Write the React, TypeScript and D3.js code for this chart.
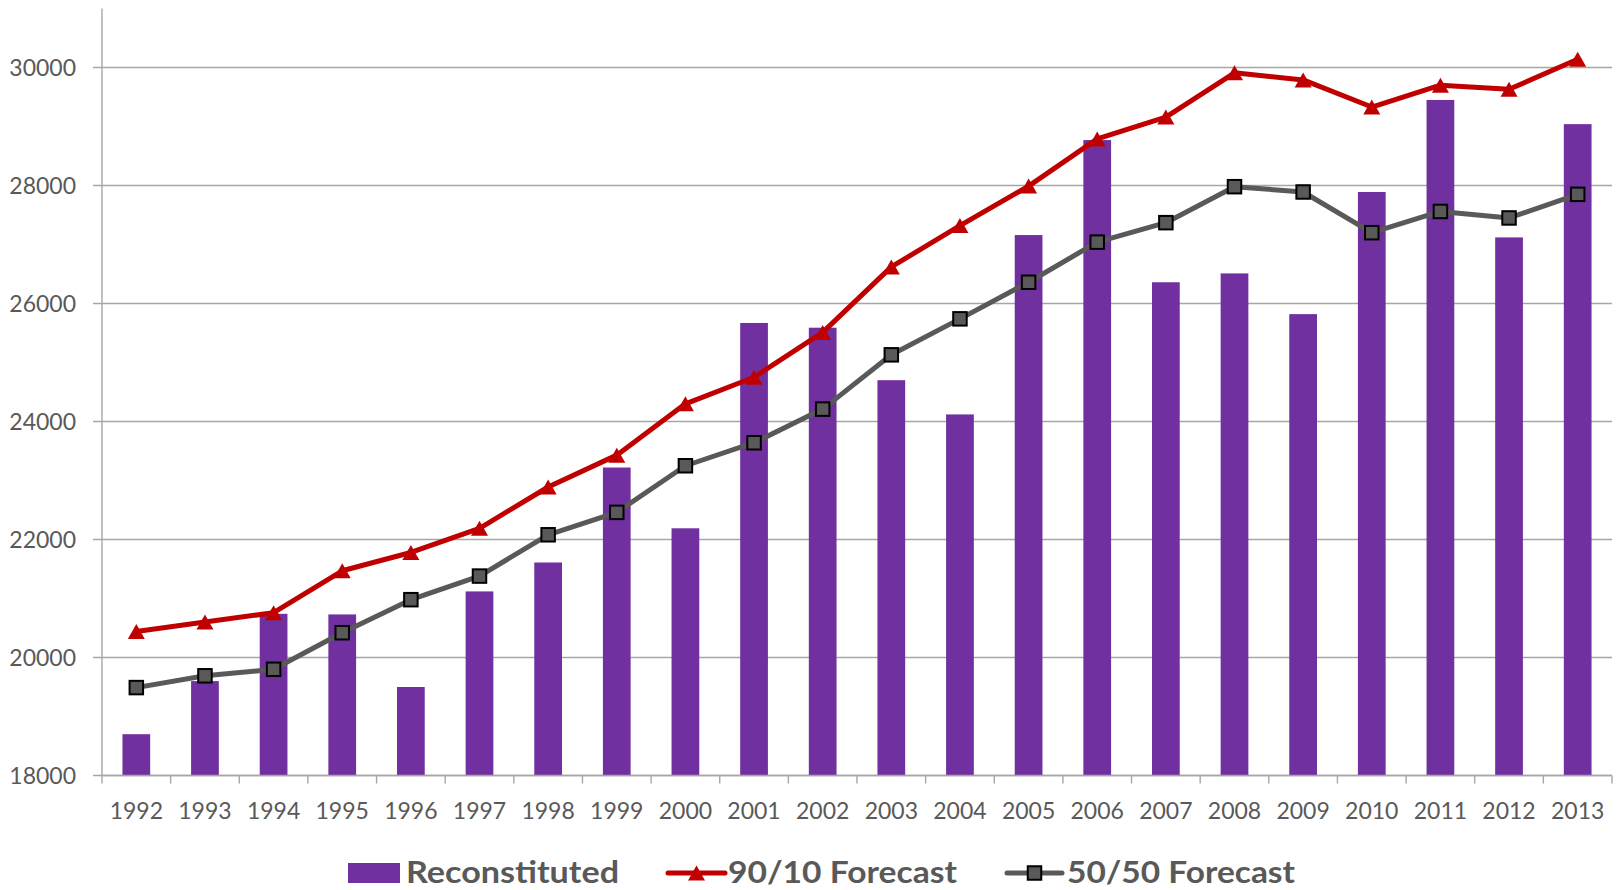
import React from "react";
import * as d3 from "d3";

const years = [
  "1992", "1993", "1994", "1995", "1996", "1997", "1998", "1999", "2000", "2001", "2002",
  "2003", "2004", "2005", "2006", "2007", "2008", "2009", "2010", "2011", "2012", "2013",
];

const reconstituted = [
  18700, 19600, 20740, 20730, 19500, 21120, 21610, 23220, 22190, 25670, 25590,
  24700, 24120, 27160, 28770, 26360, 26510, 25820, 27890, 29450, 27120, 29040,
];

const forecast9010 = [
  20440, 20600, 20760, 21470, 21780, 22190, 22890, 23430, 24300, 24750, 25510,
  26620, 27320, 27990, 28790, 29160, 29910, 29790, 29330, 29700, 29630, 30140,
];

const forecast5050 = [
  19490, 19690, 19800, 20420, 20980, 21380, 22080, 22460, 23250, 23640, 24210,
  25130, 25740, 26360, 27040, 27370, 27980, 27890, 27200, 27560, 27450, 27850,
];

const yTicks = [18000, 20000, 22000, 24000, 26000, 28000, 30000];
const yDomain = [18000, 31000];

const legendLabels = ["Reconstituted", "90/10 Forecast", "50/50 Forecast"];

const W = 1621;
const H = 890;
const left = 102;
const right = 1612;
const top = 8.5;
const bottom = 775.5;

const PURPLE = "#7030A0";
const RED = "#C00000";
const GREY = "#595959";
const GRID = "#A6A6A6";
const TEXT = "#595959";
const FONT = "Lato, 'Open Sans', sans-serif";

function triangle(cx: number, cy: number, w = 17, h = 15) {
  return `M${cx},${cy - h / 2}L${cx + w / 2},${cy + h / 2}L${cx - w / 2},${cy + h / 2}Z`;
}

export default function App() {
  const x = d3.scaleBand<string>().domain(years).range([left, right]).padding(0);
  const y = d3.scaleLinear().domain(yDomain).range([bottom, top]);
  const bw = x.bandwidth();
  const barW = bw * 0.404;
  const cx = (i: number) => (x(years[i]) as number) + bw / 2;

  const line = d3
    .line<number>()
    .x((_, i) => cx(i))
    .y((d) => y(d));

  const tickEdges = years.map((yr) => x(yr) as number).concat([right]);
  const sq = 13.5;

  return (
    <svg
      width={W}
      height={H}
      viewBox={`0 0 ${W} ${H}`}
      style={{ position: "absolute", left: 0, top: 0, background: "#fff" }}
      fontFamily={FONT}
    >
      {/* horizontal gridlines and y tick labels */}
      {yTicks.map((t) => (
        <g key={t}>
          <line x1={93} x2={right} y1={y(t)} y2={y(t)} stroke={GRID} strokeWidth={1.4} />
          <text
            x={76}
            y={y(t)}
            dy="0.35em"
            textAnchor="end"
            fontSize={23}
            fill={TEXT}
          >
            {t}
          </text>
        </g>
      ))}

      {/* bars */}
      {reconstituted.map((v, i) => (
        <rect
          key={years[i]}
          x={cx(i) - barW / 2}
          y={y(v)}
          width={barW}
          height={bottom - y(v)}
          fill={PURPLE}
        />
      ))}

      {/* axes */}
      <line x1={left} x2={left} y1={top} y2={bottom} stroke={GRID} strokeWidth={1.4} />
      <line x1={left} x2={right} y1={bottom} y2={bottom} stroke={GRID} strokeWidth={1.4} />
      {tickEdges.map((tx, i) => (
        <line key={i} x1={tx} x2={tx} y1={bottom} y2={bottom + 8} stroke={GRID} strokeWidth={1.4} />
      ))}
      {years.map((yr, i) => (
        <text key={yr} x={cx(i)} y={819} textAnchor="middle" fontSize={23} fill={TEXT}>
          {yr}
        </text>
      ))}

      {/* 90/10 forecast */}
      <path d={line(forecast9010) || ""} fill="none" stroke={RED} strokeWidth={5} strokeLinejoin="round" />
      {forecast9010.map((v, i) => (
        <path key={i} d={triangle(cx(i), y(v))} fill={RED} />
      ))}

      {/* 50/50 forecast */}
      <path d={line(forecast5050) || ""} fill="none" stroke={GREY} strokeWidth={5} strokeLinejoin="round" />
      {forecast5050.map((v, i) => (
        <rect
          key={i}
          x={cx(i) - sq / 2}
          y={y(v) - sq / 2}
          width={sq}
          height={sq}
          fill={GREY}
          stroke="#000"
          strokeWidth={2}
        />
      ))}

      {/* legend */}
      <g fontSize={31} fontWeight={700} fill={TEXT}>
        <rect x={348} y={863} width={52} height={20} fill={PURPLE} />
        <text x={406} y={883} textLength={213} lengthAdjust="spacingAndGlyphs">
          {legendLabels[0]}
        </text>

        <line x1={668} x2={725} y1={873} y2={873} stroke={RED} strokeWidth={5} strokeLinecap="round" />
        <path d={triangle(696.5, 873, 17, 15)} fill={RED} />
        <text x={728} y={883} textLength={229} lengthAdjust="spacingAndGlyphs">
          {legendLabels[1]}
        </text>

        <line x1={1007} x2={1062} y1={873} y2={873} stroke={GREY} strokeWidth={5} strokeLinecap="round" />
        <rect x={1034.5 - sq / 2} y={873 - sq / 2} width={sq} height={sq} fill={GREY} stroke="#000" strokeWidth={2} />
        <text x={1067} y={883} textLength={228} lengthAdjust="spacingAndGlyphs">
          {legendLabels[2]}
        </text>
      </g>
    </svg>
  );
}
